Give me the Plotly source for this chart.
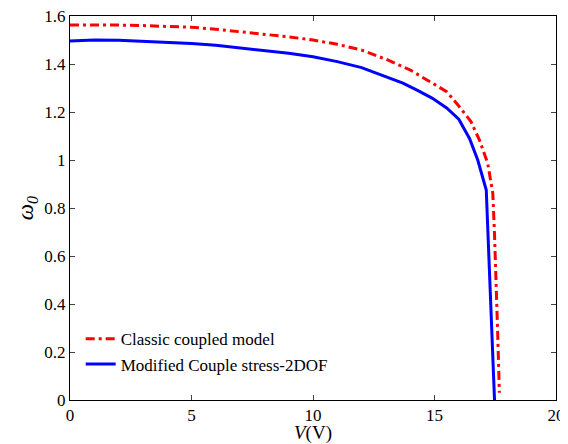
import plotly.graph_objects as go

# Modified Couple stress-2DOF (blue)
v_mcs = [0, 0.5, 1, 2, 3, 4, 5, 6, 7, 8, 9, 10, 11, 12, 13, 13.7, 14.3, 14.9, 15.5, 16, 16.44, 16.78, 17.13, 17.47]
w_mcs = [1.496, 1.499, 1.5, 1.499, 1.495, 1.49, 1.485, 1.478, 1.468, 1.458, 1.445, 1.43, 1.41, 1.385, 1.345,
         1.32, 1.29, 1.258, 1.217, 1.17, 1.09, 1.0, 0.875, 0.0]

# Classic coupled model (red)
v_cls = [0, 1, 2, 3, 4, 5, 6, 7, 8, 9, 10, 11, 12, 13, 14, 15, 15.5, 16, 16.5, 16.85, 17.19, 17.4, 17.47, 17.6, 17.67]
w_cls = [1.5625, 1.563, 1.562, 1.56, 1.557, 1.553, 1.545, 1.535, 1.524, 1.513, 1.5, 1.482, 1.458, 1.42, 1.375,
         1.315, 1.285, 1.225, 1.16, 1.083, 0.986, 0.861, 0.69, 0.28, 0.03]

x_ticks = [0, 5, 10, 15, 20]
y_ticks = [0, 0.2, 0.4, 0.6, 0.8, 1, 1.2, 1.4, 1.6]
y_tick_text = ["0", "0.2", "0.4", "0.6", "0.8", "1", "1.2", "1.4", "1.6"]

fig = go.Figure()
fig.add_trace(go.Scatter(x=v_cls, y=w_cls, mode="lines", name="Classic coupled model",
                         line=dict(color="#ff0000", width=3, dash="9px,4px,3px,4px")))
fig.add_trace(go.Scatter(x=v_mcs, y=w_mcs, mode="lines", name="Modified Couple stress-2DOF",
                         line=dict(color="#0000ff", width=3)))

font = "Liberation Serif"
fig.update_layout(
    width=560, height=436,
    margin=dict(l=62, r=12, t=8, b=44),
    paper_bgcolor="white", plot_bgcolor="white",
    font=dict(family=font, size=17, color="black"),
    showlegend=True,
    legend=dict(x=0.022, y=0.205, xanchor="left", yanchor="top", bgcolor="rgba(0,0,0,0)",
                font=dict(family=font, size=17), tracegroupgap=0, itemwidth=30),
    xaxis=dict(range=[0, 20], tickvals=x_ticks, ticks="inside", ticklen=5, mirror="allticks",
               showline=True, linecolor="black", linewidth=1, showgrid=False, zeroline=False,
               automargin=False, ticklabeloverflow="allow", tickfont=dict(family=font, size=17),
               title=dict(text="<i>V</i>(V)", standoff=3, font=dict(family=font, size=19))),
    yaxis=dict(range=[0, 1.6], tickvals=y_ticks, ticktext=y_tick_text, ticks="inside", ticklen=5,
               mirror="allticks", showline=True, linecolor="black", linewidth=1, showgrid=False,
               zeroline=False, automargin=False, ticklabeloverflow="allow",
               tickfont=dict(family=font, size=17),
               title=dict(text="<i>ω<sub>0</sub></i>", standoff=4, font=dict(family=font, size=23))),
)

fig.write_html("out.html")
